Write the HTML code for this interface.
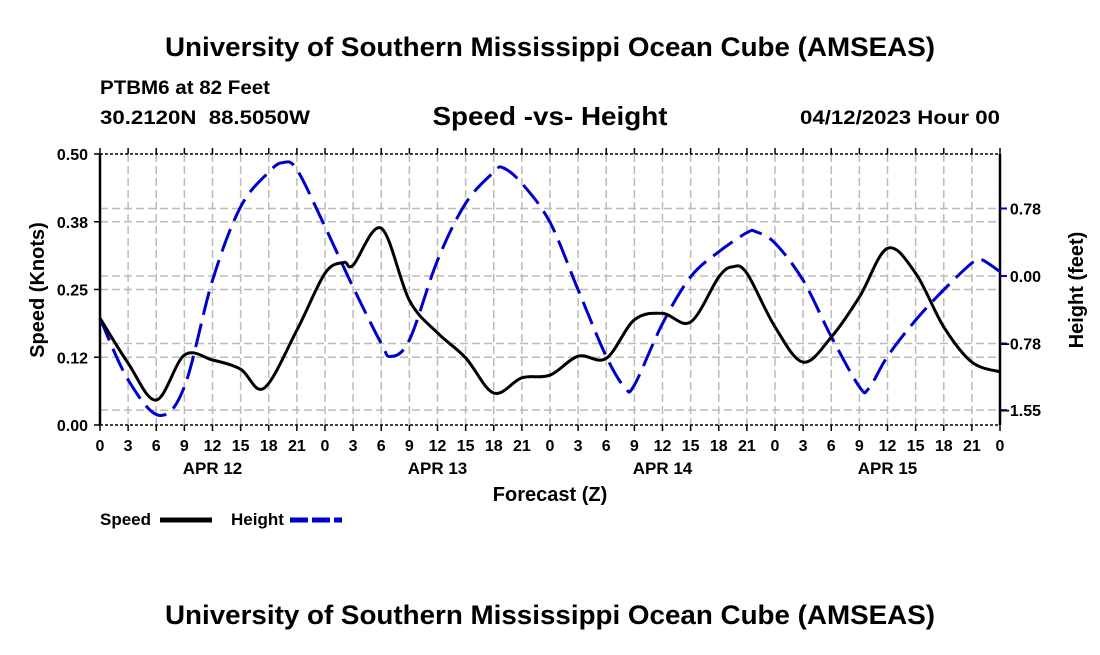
<!DOCTYPE html>
<html><head><meta charset="utf-8"><style>
body{margin:0;background:#fff;}
svg text{font-family:"Liberation Sans",Arial,sans-serif;font-weight:bold;fill:#000;}
</style></head><body>
<svg id="chart" width="1100" height="650" viewBox="0 0 1100 650" xmlns="http://www.w3.org/2000/svg">
<text x="550" y="56" font-size="27" text-anchor="middle" textLength="770" lengthAdjust="spacingAndGlyphs">University of Southern Mississippi Ocean Cube (AMSEAS)</text>
<text x="100" y="94" font-size="19" textLength="170" lengthAdjust="spacingAndGlyphs">PTBM6 at 82 Feet</text>
<text x="100" y="124" font-size="19" textLength="210" lengthAdjust="spacingAndGlyphs" xml:space="preserve">30.2120N  88.5050W</text>
<text x="550" y="125" font-size="26" text-anchor="middle" textLength="235" lengthAdjust="spacingAndGlyphs">Speed -vs- Height</text>
<text x="1000" y="124" font-size="19" text-anchor="end" textLength="200" lengthAdjust="spacingAndGlyphs">04/12/2023 Hour 00</text>
<g id="grid"></g>
<g id="axes"></g>
<g id="series"></g>
<text transform="translate(44,290) rotate(-90)" font-size="20" text-anchor="middle">Speed (Knots)</text>
<text transform="translate(1083,290) rotate(-90)" font-size="20" text-anchor="middle">Height (feet)</text>
<text x="550" y="501" font-size="20" text-anchor="middle">Forecast (Z)</text>
<g>
<text x="100" y="525" font-size="17">Speed</text>
<line x1="160" y1="520" x2="212" y2="520" stroke="#000" stroke-width="5"/>
<text x="231" y="525" font-size="17">Height</text>
<line x1="290" y1="520" x2="342" y2="520" stroke="#0000cc" stroke-width="5" stroke-dasharray="18,4"/>
</g>
<text x="550" y="624" font-size="27" text-anchor="middle" textLength="770" lengthAdjust="spacingAndGlyphs">University of Southern Mississippi Ocean Cube (AMSEAS)</text>
</svg>
<script>
const speedHours=[0,3,6,9,12,15,17.5,21,24,26,27,30,33,36,39,42,45,48,51,54,57,60,63,66,67.5,69,72,75,78,81,84,87,90,93,96];
const speedValues=[0.197,0.114,0.046,0.129,0.12,0.103,0.068,0.175,0.28,0.30,0.295,0.363,0.23,0.17,0.124,0.059,0.087,0.092,0.127,0.123,0.194,0.206,0.19,0.273,0.292,0.28,0.181,0.116,0.162,0.236,0.326,0.28,0.181,0.116,0.098];
const heightHours=[0,3,6.3,9,12,15,18,19.5,21,24,27,30,31,33,36,39,42,43,45,48,51,54,56,57,60,63,66,69,70,72,75,78,81,82,84,87,90,93,94,96];
const heightValues=[-0.49,-1.2,-1.61,-1.28,-0.05,0.8,1.2,1.31,1.23,0.57,-0.13,-0.78,-0.93,-0.74,0.18,0.84,1.2,1.25,1.07,0.62,-0.16,-0.93,-1.29,-1.26,-0.55,-0.01,0.28,0.5,0.51,0.38,-0.05,-0.7,-1.28,-1.3,-0.93,-0.51,-0.16,0.15,0.19,0.05];
const hourTickLabels=["0","3","6","9","12","15","18","21"];
const dayLabels=["APR 12","APR 13","APR 14","APR 15"];
const speedTicks=[0,0.125,0.25,0.375,0.5];
const speedTickLabels=["0.00","0.12","0.25","0.38","0.50"];
const heightTicks=[-1.55,-0.78,0,0.78];
const heightTickLabels=["\u22121.55","\u22120.78","0.00","0.78"];

const L=100,R=1000,T=154,B=425;
const xS=h=>L+(h/96)*(R-L);
const yS=v=>B-(v/0.5)*(B-T);
const yH=h=>276-h*(67.5/0.78);
const NS="http://www.w3.org/2000/svg";
function mk(tag,attrs,parent){const e=document.createElementNS(NS,tag);for(const k in attrs)e.setAttribute(k,attrs[k]);parent.appendChild(e);return e;}
const grid=document.getElementById('grid'),axes=document.getElementById('axes'),series=document.getElementById('series');
for(let h=3;h<96;h+=3){const l=mk('line',{x1:xS(h),x2:xS(h),y1:T,y2:B,stroke:'#bbb','stroke-width':1.5,'stroke-dasharray':'8,4'},grid);
}
speedTicks.slice(1,4).forEach(v=>{const l=mk('line',{x1:L,x2:R,y1:yS(v),y2:yS(v),stroke:'#bbb','stroke-width':1.5,'stroke-dasharray':'8,4'},grid);
});
heightTicks.forEach(v=>{const l=mk('line',{x1:L,x2:R,y1:yH(v),y2:yH(v),stroke:'#bbb','stroke-width':1.5,'stroke-dasharray':'8,4'},grid);
});
[[L,T,R,T,1.5,'3,2'],[L,B,R,B,1.5,'3,2'],[L,T,L,B,2.5,''],[R,T,R,B,2.5,'']].forEach(a=>{const l=mk('line',{x1:a[0],y1:a[1],x2:a[2],y2:a[3],stroke:'#000','stroke-width':a[4]},axes);if(a[5])l.setAttribute('stroke-dasharray',a[5]);
});
for(let h=0;h<=96;h+=3){[[B,B+6],[T-6,T]].forEach(p=>{const t=mk('line',{x1:xS(h),x2:xS(h),y1:p[0],y2:p[1],stroke:'#000','stroke-width':1.5},axes);
});
const tx=mk('text',{x:xS(h),y:451,'font-size':16,'text-anchor':'middle'},axes);tx.textContent=hourTickLabels[(h/3)%8];
}
dayLabels.forEach((d,i)=>{const tx=mk('text',{x:xS(i*24+12),y:474,'font-size':17,'text-anchor':'middle'},axes);tx.textContent=d;
});
speedTicks.forEach((v,i)=>{const t=mk('line',{x1:L-6,x2:L,y1:yS(v),y2:yS(v),stroke:'#000','stroke-width':1.5},axes);

const tx=mk('text',{x:L-12,y:yS(v)+6,'font-size':16,'text-anchor':'end'},axes);tx.textContent=speedTickLabels[i];
});
heightTicks.forEach((v,i)=>{const t=mk('line',{x1:R,x2:R+7,y1:yH(v),y2:yH(v),stroke:'#0000cc','stroke-width':2},axes);

const tx=mk('text',{x:1041,y:yH(v)+6,'font-size':16,'text-anchor':'end'},axes);tx.textContent=heightTickLabels[i];
});
function curve(hs,vs,ys){const p=hs.map((h,i)=>[xS(h),ys(vs[i])]);let d='M'+p[0][0]+','+p[0][1];
for(let i=0;i<p.length-1;i++){const p0=p[Math.max(0,i-1)],p1=p[i],p2=p[i+1],p3=p[Math.min(p.length-1,i+2)];
const c1=[p1[0]+(p2[0]-p0[0])/6,p1[1]+(p2[1]-p0[1])/6],c2=[p2[0]-(p3[0]-p1[0])/6,p2[1]-(p3[1]-p1[1])/6];
d+=' C'+c1[0]+','+c1[1]+' '+c2[0]+','+c2[1]+' '+p2[0]+','+p2[1];}return d;}
const hp=mk('path',{d:curve(heightHours,heightValues,yH),fill:'none',stroke:'#0000cc','stroke-width':3,'stroke-dasharray':'24,9'},series);

const sp=mk('path',{d:curve(speedHours,speedValues,yS),fill:'none',stroke:'#000','stroke-width':3},series);

</script>
</body></html>
